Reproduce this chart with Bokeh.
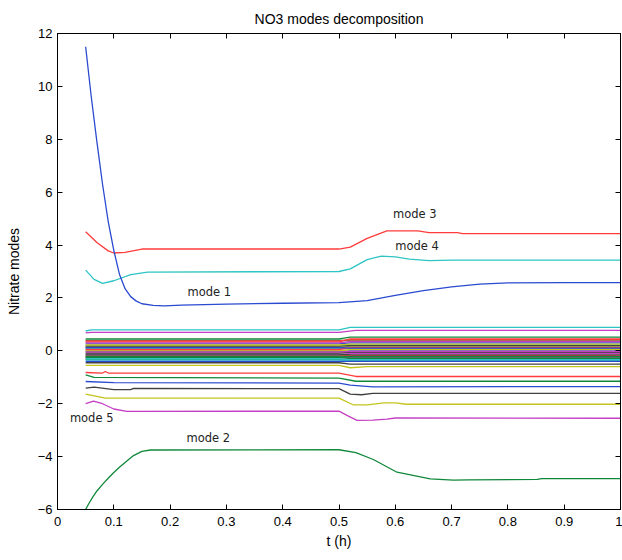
from bokeh.plotting import figure
from bokeh.models import Range1d, FixedTicker, Label, LinearAxis
from bokeh.embed import file_html
from bokeh.resources import INLINE

# ---------------- data ----------------
title_text = "NO3 modes decomposition"
x_label = "t (h)"
y_label = "Nitrate modes"
x_ticks = [0, 0.1, 0.2, 0.3, 0.4, 0.5, 0.6, 0.7, 0.8, 0.9, 1]
y_ticks = [-6, -4, -2, 0, 2, 4, 6, 8, 10, 12]

mode1_t = [0.05, 0.06, 0.07, 0.08, 0.09, 0.10, 0.11, 0.12, 0.13, 0.14, 0.15, 0.17, 0.19, 0.22, 0.30, 0.40, 0.50, 0.55, 0.60, 0.65, 0.70, 0.75, 0.80, 0.90, 1.00]
mode1_y = [11.5, 9.6, 7.9, 6.3, 4.9, 3.8, 2.9, 2.35, 2.05, 1.88, 1.78, 1.72, 1.70, 1.73, 1.77, 1.80, 1.82, 1.90, 2.10, 2.28, 2.42, 2.52, 2.57, 2.58, 2.58]

mode2_t = [0.05, 0.055, 0.062, 0.07, 0.08, 0.09, 0.10, 0.11, 0.12, 0.135, 0.15, 0.165, 0.50, 0.53, 0.561, 0.603, 0.662, 0.703, 0.73, 0.852, 0.86, 1.00]
mode2_y = [-6.0, -5.8, -5.55, -5.3, -5.05, -4.82, -4.6, -4.4, -4.22, -3.96, -3.80, -3.75, -3.74, -3.85, -4.11, -4.59, -4.84, -4.89, -4.88, -4.86, -4.83, -4.83]

mode3_t = [0.05, 0.07, 0.09, 0.10, 0.12, 0.15, 0.50, 0.52, 0.55, 0.585, 0.64, 0.66, 0.71, 0.72, 1.00]
mode3_y = [4.50, 4.10, 3.78, 3.70, 3.72, 3.85, 3.85, 3.92, 4.25, 4.54, 4.54, 4.47, 4.47, 4.43, 4.43]

mode4_t = [0.05, 0.065, 0.08, 0.10, 0.13, 0.16, 0.50, 0.52, 0.55, 0.575, 0.60, 0.625, 0.66, 0.70, 1.00]
mode4_y = [3.05, 2.70, 2.55, 2.65, 2.88, 2.98, 3.00, 3.10, 3.45, 3.58, 3.55, 3.47, 3.41, 3.43, 3.43]

mode5_t = [0.05, 0.064, 0.08, 0.10, 0.123, 0.50, 0.515, 0.532, 0.56, 0.585, 0.60, 1.00]
mode5_y = [-2.00, -1.90, -2.00, -2.20, -2.29, -2.28, -2.45, -2.63, -2.62, -2.58, -2.54, -2.55]

mode6_t = [0.05, 0.085, 0.50, 0.525, 0.55, 0.58, 0.60, 0.62, 1.00]
mode6_y = [-1.64, -1.79, -1.79, -2.04, -2.04, -1.97, -1.97, -2.02, -2.02]

mode7_t = [0.05, 0.065, 0.10, 0.13, 0.135, 0.50, 0.52, 0.54, 0.56, 1.00]
mode7_y = [-1.41, -1.37, -1.47, -1.47, -1.42, -1.43, -1.64, -1.66, -1.61, -1.61]

mode8_t = [0.05, 0.10, 0.50, 0.52, 0.56, 1.00]
mode8_y = [-1.16, -1.20, -1.22, -1.30, -1.36, -1.35]

mode9_t = [0.05, 0.065, 0.50, 0.53, 1.00]
mode9_y = [-0.91, -1.00, -1.03, -1.15, -1.15]

mode10_t = [0.05, 0.08, 0.085, 0.09, 0.50, 0.53, 1.00]
mode10_y = [-0.82, -0.84, -0.78, -0.84, -0.84, -0.97, -0.97]

mode11_t = [0.05, 0.06, 0.50, 0.52, 1.00]
mode11_y = [0.75, 0.79, 0.79, 0.89, 0.89]

mode12_t = [0.05, 0.06, 0.50, 0.53, 1.00]
mode12_y = [0.68, 0.70, 0.70, 0.77, 0.77]

mode13_t = [0.05, 0.50, 0.52, 0.55, 1.00]
mode13_y = [-0.55, -0.55, -0.64, -0.60, -0.60]

mode14_t = [0.05, 0.50, 0.52, 1.00]
mode14_y = [-0.45, -0.45, -0.50, -0.50]

# higher modes (15 ...) : value before and after the t = 0.5 switch
band_t = [0.05, 0.50, 0.52, 1.00]
band_before = [-0.40, 0.45, 0.38, -0.30, 0.30, 0.22, 0.18, 0.12, -0.20, 0.05, -0.35, -0.05, 0.00, -0.12, 0.26,
               -0.25, 0.34, 0.08, -0.15, 0.15, -0.08, -0.02, 0.40, -0.18, 0.20, -0.28, 0.03, -0.22, 0.10, -0.32]
band_after = [-0.40, 0.52, 0.42, -0.33, 0.35, 0.25, 0.20, 0.10, -0.22, 0.12, -0.38, -0.02, 0.05, -0.15, 0.30,
              -0.28, 0.45, 0.08, -0.10, 0.15, -0.06, 0.00, 0.38, -0.18, 0.22, -0.25, -0.05, -0.30, 0.18, -0.35]

labels_text = ["mode 1", "mode 2", "mode 3", "mode 4", "mode 5"]
labels_x = [0.231, 0.229, 0.596, 0.600, 0.022]
labels_y = [2.23, -3.28, 5.17, 3.96, -2.53]

colors = ["#2a4ad0", "#10883a", "#ff3b3b", "#2ec4c4", "#c43ec4", "#c4c41e", "#404040"]

# ---------------- plot ----------------
p = figure(width=622, height=560, output_backend="svg", toolbar_location=None,
           x_range=Range1d(0, 1), y_range=Range1d(-6, 12),
           min_border_left=57, min_border_right=2, min_border_top=33, min_border_bottom=51,
           background_fill_color="white", border_fill_color="white")

modes = [(mode1_t, mode1_y), (mode2_t, mode2_y), (mode3_t, mode3_y), (mode4_t, mode4_y),
         (mode5_t, mode5_y), (mode6_t, mode6_y), (mode7_t, mode7_y), (mode8_t, mode8_y),
         (mode9_t, mode9_y), (mode10_t, mode10_y), (mode11_t, mode11_y), (mode12_t, mode12_y),
         (mode13_t, mode13_y), (mode14_t, mode14_y)]
for b0, b1 in zip(band_before, band_after):
    modes.append((band_t, [b0, b0, b1, b1]))

# draw higher modes first, main modes on top
for i in list(range(len(modes)))[::-1]:
    t, y = modes[i]
    p.line(t, y, line_color=colors[i % 7], line_width=1.3)

for txt, lx, ly in zip(labels_text, labels_x, labels_y):
    p.add_layout(Label(x=lx, y=ly, text=txt, text_font="DejaVu Sans", text_font_size="11.5px",
                       text_baseline="middle", text_align="left", text_color="#222222"))

p.title.text = title_text
p.title.align = "center"
p.title.text_font = "Liberation Sans"
p.title.text_font_size = "14px"
p.title.text_font_style = "normal"
p.title.text_color = "black"
p.title.standoff = 13

p.xgrid.visible = False
p.ygrid.visible = False
p.outline_line_color = "black"
p.outline_line_width = 1

for ax in (p.xaxis[0], p.yaxis[0]):
    ax.axis_label_text_font = "Liberation Sans"
    ax.axis_label_text_font_size = "14px"
    ax.axis_label_text_font_style = "normal"
    ax.axis_label_text_color = "black"
    ax.major_label_text_font = "Liberation Sans"
    ax.major_label_text_font_size = "13px"
    ax.major_label_text_color = "black"
    ax.major_tick_in = 5
    ax.major_tick_out = 0
    ax.minor_tick_in = 0
    ax.minor_tick_out = 0
    ax.axis_line_color = "black"
    ax.major_tick_line_color = "black"

p.xaxis[0].ticker = FixedTicker(ticks=x_ticks)
p.yaxis[0].ticker = FixedTicker(ticks=y_ticks)
p.xaxis[0].major_label_overrides = {0: "0", 1: "1"}
p.xaxis[0].axis_label = x_label
p.yaxis[0].axis_label = y_label
p.xaxis[0].major_label_standoff = 7
p.xaxis[0].axis_label_standoff = 4
p.yaxis[0].major_label_standoff = 5
p.yaxis[0].axis_label_standoff = 13

# tick marks on the top and right edges (box style), no labels
top_ax = LinearAxis(ticker=FixedTicker(ticks=x_ticks), major_tick_in=5, major_tick_out=0,
                    minor_tick_in=0, minor_tick_out=0, major_label_text_font_size="0px",
                    major_label_text_color=None, major_label_standoff=0, axis_line_color="black")
right_ax = LinearAxis(ticker=FixedTicker(ticks=y_ticks), major_tick_in=5, major_tick_out=0,
                      minor_tick_in=0, minor_tick_out=0, major_label_text_font_size="0px",
                      major_label_text_color=None, major_label_standoff=0, axis_line_color="black")
p.add_layout(top_ax, "above")
p.add_layout(right_ax, "right")

open("out.html", "w").write(file_html(p, INLINE))
